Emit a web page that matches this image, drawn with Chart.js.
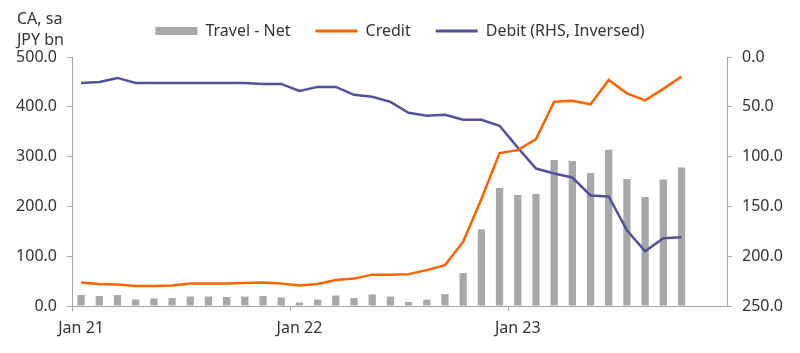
<!DOCTYPE html>
<html>
<head>
<meta charset="utf-8">
<script src="https://cdn.jsdelivr.net/npm/chart.js@4"></script>
<style>
  html, body { margin: 0; padding: 0; background: #fff; }
  #myChart { display: block; }
</style>
</head>
<body>
<canvas id="myChart" width="800" height="353"></canvas>
<script>
// monthly, Jan 21 - Dec 23 (data runs to Oct 23)
const months = ["Jan", "Feb", "Mar", "Apr", "May", "Jun", "Jul", "Aug", "Sep", "Oct", "Nov", "Dec"];
const years = ["21", "22", "23"];
const labels = [];
years.forEach((y) => months.forEach((m) => labels.push(`${m} ${y}`)));

const travel_net = [
  22, 20, 22, 13, 15, 16, 19, 19, 18, 19, 20, 17,
  7, 13, 21, 16, 23, 19, 8, 13, 24, 66, 154, 237,
  223, 225, 293, 291, 267, 314, 255, 219, 254, 278,
];
const credit = [
  47, 44, 43, 40, 40, 41, 45, 45, 45, 46, 47, 45,
  41, 44, 52, 55, 63, 63, 64, 72, 82, 129, 215, 307,
  313, 335, 410, 412, 405, 454, 427, 413, 436, 461,
];
const debit = [
  26, 25, 21, 26, 26, 26, 26, 26, 26, 26, 27, 27,
  34, 30, 30, 38, 40, 45, 56, 59, 58, 63, 63, 69,
  91, 112, 117, 121, 139, 140, 174, 195, 182, 181,
];

const axisGrey = "#a6a6a6";
const textCol = "#333333";
const fontFam = "'Noto Sans', 'Open Sans', sans-serif";

// "CA, sa / JPY bn" unit text top left
const unitText = {
  id: "unitText",
  afterDraw(chart) {
    const c = chart.ctx;
    c.save();
    c.fillStyle = textCol;
    c.font = `16px ${fontFam}`;
    c.textBaseline = "middle";
    c.textAlign = "left";
    c.fillText("CA, sa", 17, 19);
    c.fillText("JPY bn", 17, 40);
    c.restore();
  },
};

// a bit more room under the legend
const legendSpace = {
  id: "legendSpace",
  beforeLayout(chart) {
    const lg = chart.legend;
    if (lg && !lg._spaced) {
      const fit = lg.fit;
      lg.fit = function () {
        fit.call(this);
        this.height += 8;
      };
      lg._spaced = true;
    }
  },
};

const ctx = document.getElementById("myChart");

new Chart(ctx, {
  type: "bar",
  data: {
    labels: labels,
    datasets: [
      {
        label: "Travel - Net",
        data: travel_net,
        backgroundColor: "#a8a8a8",
        borderWidth: 0,
        barPercentage: 0.4,
        categoryPercentage: 1.0,
        yAxisID: "y",
        order: 2,
      },
      {
        type: "line",
        label: "Credit",
        data: credit,
        borderColor: "#ff6200",
        backgroundColor: "#ff6200",
        borderWidth: 2.5,
        pointRadius: 0,
        pointStyle: "line",
        tension: 0,
        yAxisID: "y",
        order: 0,
      },
      {
        type: "line",
        label: "Debit (RHS, Inversed)",
        data: debit,
        borderColor: "#525199",
        backgroundColor: "#525199",
        borderWidth: 2.5,
        pointRadius: 0,
        pointStyle: "line",
        tension: 0,
        yAxisID: "y1",
        order: 1,
      },
    ],
  },
  options: {
    responsive: false,
    animation: false,
    layout: { padding: { top: -2, left: 0, right: 0, bottom: 0 } },
    plugins: {
      tooltip: { enabled: false },
      legend: {
        position: "top",
        labels: {
          color: textCol,
          font: { family: fontFam, size: 16 },
          usePointStyle: true,
          pointStyleWidth: 42,
          boxHeight: 8,
          padding: 25,
          sort: (a, b) => a.datasetIndex - b.datasetIndex,
          generateLabels: (chart) => {
            const items = Chart.defaults.plugins.legend.labels.generateLabels(chart);
            items.forEach((it) => {
              if (it.datasetIndex === 0) {
                it.pointStyle = "rect";
                it.lineWidth = 0;
                it.fillStyle = "#a8a8a8";
              } else {
                it.pointStyle = "line";
                it.lineWidth = 3;
              }
            });
            return items;
          },
        },
      },
    },
    scales: {
      x: {
        offset: true,
        grid: {
          offset: true,
          drawOnChartArea: false,
          drawTicks: true,
          tickLength: 5,
          color: (c) => (c.index % 12 === 0 ? axisGrey : "rgba(0,0,0,0)"),
        },
        border: { display: true, color: axisGrey, width: 1 },
        ticks: {
          autoSkip: false,
          maxRotation: 0,
          padding: 8,
          color: textCol,
          font: { family: fontFam, size: 16 },
          callback: function (val, i) {
            const l = labels[i];
            return l.startsWith("Jan") ? l : "";
          },
        },
        afterFit: (s) => {
          s.height = 47;
        },
      },
      y: {
        position: "left",
        min: 0,
        max: 500,
        grid: { drawOnChartArea: false, tickLength: 5, color: axisGrey },
        border: { display: true, color: axisGrey, width: 1 },
        ticks: {
          stepSize: 100,
          padding: 10,
          color: textCol,
          font: { family: fontFam, size: 16 },
          callback: (v) => v.toFixed(1),
        },
        afterFit: (s) => {
          s.width = 72;
        },
      },
      y1: {
        position: "right",
        reverse: true,
        min: 0,
        max: 250,
        grid: { drawOnChartArea: false, tickLength: 5, color: axisGrey },
        border: { display: true, color: axisGrey, width: 1 },
        ticks: {
          stepSize: 50,
          padding: 10,
          color: textCol,
          font: { family: fontFam, size: 16 },
          callback: (v) => v.toFixed(1),
        },
        afterFit: (s) => {
          s.width = 73;
        },
      },
    },
  },
  plugins: [unitText, legendSpace],
});
</script>
</body>
</html>
